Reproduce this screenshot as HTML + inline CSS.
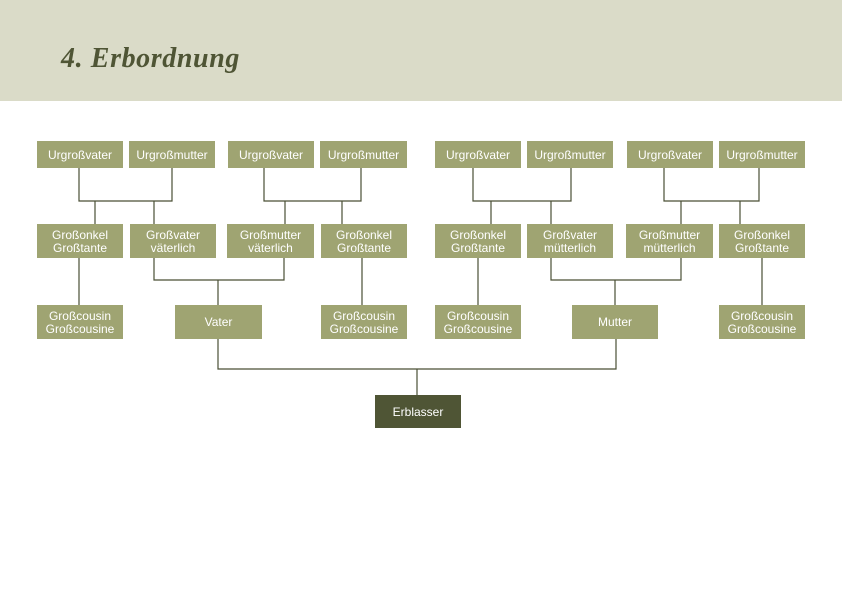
<!DOCTYPE html>
<html><head><meta charset="utf-8"><style>
body{margin:0;width:842px;height:595px;background:#fff;position:relative;overflow:hidden;font-family:"Liberation Sans",sans-serif}
.h{position:absolute;left:0;top:0;width:842px;height:101px;background:#dadbc8}
.t{position:absolute;left:61px;top:43px;font:italic bold 28px "Liberation Serif",serif;color:#4f5535;letter-spacing:0.6px}
.b{position:absolute;background:#9fa472;color:#fff;font-size:12px;line-height:13px;display:flex;align-items:center;justify-content:center;text-align:center;padding-top:1px;box-sizing:border-box}
svg{position:absolute;left:0;top:0}
</style></head><body>
<div class="h"></div><div class="t">4. Erbordnung</div>
<svg width="842" height="595" fill="none" stroke-width="1.2">
<g stroke="#4a4f35">
<path d="M79 168V201H172V168M95 201V224M154 201V224"/>
<path d="M264 168V201H361V168M285 201V224M342 201V224"/>
<path d="M79 258V305M154 258V280H284V258M218 280V305M218 339V369H616V339M417 369V395M362 258V305"/>
<path d="M473 168V201H571V168M491 201V224M551 201V224"/>
<path d="M664 168V201H759V168M681 201V224M740 201V224"/>
<path d="M478 258V305M551 258V280H681V258M615 280V305M762 258V305"/>
</g></svg>
<div class="b" style="left:37px;top:141px;width:86px;height:27px">Urgroßvater</div>
<div class="b" style="left:129px;top:141px;width:86px;height:27px">Urgroßmutter</div>
<div class="b" style="left:228px;top:141px;width:86px;height:27px">Urgroßvater</div>
<div class="b" style="left:320px;top:141px;width:87px;height:27px">Urgroßmutter</div>
<div class="b" style="left:435px;top:141px;width:86px;height:27px">Urgroßvater</div>
<div class="b" style="left:527px;top:141px;width:86px;height:27px">Urgroßmutter</div>
<div class="b" style="left:627px;top:141px;width:86px;height:27px">Urgroßvater</div>
<div class="b" style="left:719px;top:141px;width:86px;height:27px">Urgroßmutter</div>
<div class="b" style="left:37px;top:224px;width:86px;height:34px">Großonkel<br>Großtante</div>
<div class="b" style="left:130px;top:224px;width:86px;height:34px">Großvater<br>väterlich</div>
<div class="b" style="left:227px;top:224px;width:87px;height:34px">Großmutter<br>väterlich</div>
<div class="b" style="left:321px;top:224px;width:86px;height:34px">Großonkel<br>Großtante</div>
<div class="b" style="left:435px;top:224px;width:86px;height:34px">Großonkel<br>Großtante</div>
<div class="b" style="left:527px;top:224px;width:86px;height:34px">Großvater<br>mütterlich</div>
<div class="b" style="left:626px;top:224px;width:87px;height:34px">Großmutter<br>mütterlich</div>
<div class="b" style="left:719px;top:224px;width:86px;height:34px">Großonkel<br>Großtante</div>
<div class="b" style="left:37px;top:305px;width:86px;height:34px">Großcousin<br>Großcousine</div>
<div class="b" style="left:175px;top:305px;width:87px;height:34px">Vater</div>
<div class="b" style="left:321px;top:305px;width:86px;height:34px">Großcousin<br>Großcousine</div>
<div class="b" style="left:435px;top:305px;width:86px;height:34px">Großcousin<br>Großcousine</div>
<div class="b" style="left:572px;top:305px;width:86px;height:34px">Mutter</div>
<div class="b" style="left:719px;top:305px;width:86px;height:34px">Großcousin<br>Großcousine</div>
<div class="b" style="left:375px;top:395px;width:86px;height:33px;background:#4f5535">Erblasser</div>
</body></html>
